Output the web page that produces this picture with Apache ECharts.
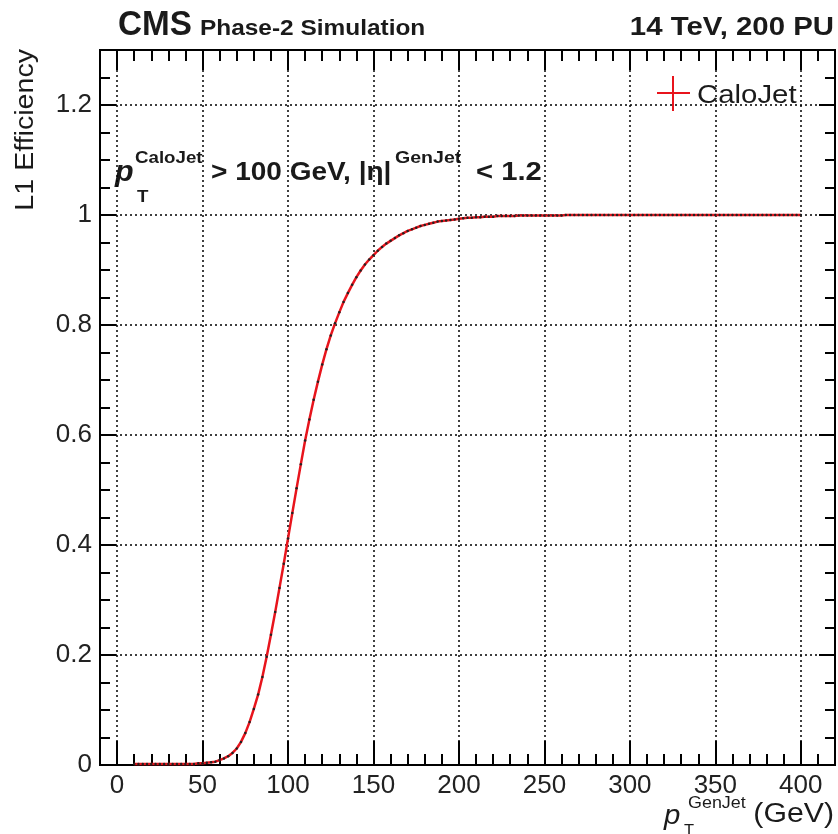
<!DOCTYPE html>
<html>
<head>
<meta charset="utf-8">
<script src="https://cdn.jsdelivr.net/npm/echarts@6/dist/echarts.min.js"></script>
<style>
html,body{margin:0;padding:0;background:#fff;}
#chart{width:838px;height:834px;}
</style>
</head>
<body>
<div id="chart"></div>
<script>
// ---- data ----
var ptGenJet = [
  10,12.5,15,17.5,20,22.5,25,27.5,30,32.5,35,37.5,40,42.5,45,47.5,50,52.5,55,57.5,
  60,62.5,65,67.5,70,72.5,75,77.5,80,82.5,85,87.5,90,92.5,95,97.5,100,102.5,105,107.5,
  110,112.5,115,117.5,120,122.5,125,127.5,130,132.5,135,137.5,140,142.5,145,147.5,150,152.5,155,157.5,
  160,162.5,165,167.5,170,172.5,175,177.5,180,182.5,185,187.5,190,192.5,195,197.5,200,202.5,205,207.5,
  210,212.5,215,217.5,220,222.5,225,227.5,230,232.5,235,237.5,240,242.5,245,247.5,250,252.5,255,257.5,
  260,262.5,265,267.5,270,272.5,275,277.5,280,282.5,285,287.5,290,292.5,295,297.5,300,302.5,305,307.5,
  310,312.5,315,317.5,320,322.5,325,327.5,330,332.5,335,337.5,340,342.5,345,347.5,350,352.5,355,357.5,
  360,362.5,365,367.5,370,372.5,375,377.5,380,382.5,385,387.5,390,392.5,395,397.5,400
];
var effCaloJet = [
  0.002,0.002,0.002,0.002,0.002,0.002,0.002,0.002,0.002,0.002,0.002,0.002,0.002,0.002,0.002,0.003,0.003,0.004,0.005,0.006,
  0.009,0.012,0.016,0.022,0.030,0.042,0.058,0.078,0.102,0.128,0.160,0.197,0.237,0.278,0.322,0.366,0.412,0.458,0.503,0.547,
  0.590,0.628,0.664,0.697,0.728,0.756,0.781,0.803,0.823,0.842,0.858,0.873,0.887,0.899,0.910,0.919,0.927,0.935,0.942,0.948,
  0.953,0.958,0.963,0.967,0.971,0.974,0.977,0.980,0.982,0.984,0.986,0.988,0.989,0.990,0.991,0.992,0.993,0.994,0.995,0.995,
  0.996,0.996,0.997,0.997,0.997,0.998,0.998,0.998,0.998,0.998,0.999,0.999,0.999,0.999,0.999,0.999,0.999,0.999,0.999,0.999,
  0.999,1,1,1,1,1,1,1,1,1,1,1,1,1,1,1,1,1,1,1,
  1,1,1,1,1,1,1,1,1,1,1,1,1,1,1,1,1,1,1,1,
  1,1,1,1,1,1,1,1,1,1,1,1,1,1,1,1,1
];
var xRange = [-10, 420];
var yRange = [0, 1.3];
var seriesName = 'CaloJet';

// ---- chart ----
var FONT = "'Liberation Sans', Arial, Helvetica, sans-serif";
var chart = echarts.init(document.getElementById('chart'), null, {renderer: 'canvas'});

function xAx(pos, major, labels) {
  return {
    type: 'value', position: pos, min: xRange[0], max: xRange[1],
    splitNumber: major ? 9 : undefined,
    interval: major ? undefined : 10,
    axisLine: {show: true, onZero: false, lineStyle: {color: '#000', width: 2}},
    axisTick: {show: true, inside: true, length: major ? (pos === 'bottom' ? 24 : 20) : 11, lineStyle: {color: '#000', width: 2}},
    axisLabel: {show: !!labels, showMinLabel: false, showMaxLabel: false, margin: 8,
      fontFamily: FONT, fontSize: 26, color: '#222'},
    splitLine: {show: !!labels, lineStyle: {color: '#000', type: [2, 3], width: 1.5}},
    minorTick: {show: false}
  };
}
function yAx(pos, major, labels) {
  return {
    type: 'value', position: pos, min: yRange[0], max: yRange[1],
    interval: major ? 0.2 : 0.05,
    axisLine: {show: true, onZero: false, lineStyle: {color: '#000', width: 2}},
    axisTick: {show: true, inside: true, length: major ? 16 : 10, lineStyle: {color: '#000', width: 2}},
    axisLabel: {show: !!labels, showMaxLabel: false, margin: 8,
      fontFamily: FONT, fontSize: 26, color: '#222'},
    splitLine: {show: !!labels, lineStyle: {color: '#000', type: [2, 3], width: 1.5}}
  };
}

var data = ptGenJet.map(function (x, i) { return [x, effCaloJet[i]]; });

function txt(x, y, s, font, align, sx, extra) {
  var o = {type: 'text', x: x, y: y, scaleX: sx || 1,
    style: {text: s, font: font + ' ' + FONT, fill: '#1a1a1a', align: align || 'left', verticalAlign: 'middle'}};
  if (extra) for (var k in extra) o[k] = extra[k];
  return o;
}

var option = {
  backgroundColor: '#fff',
  animation: false,
  grid: {left: 100, right: 3, top: 50, bottom: 69, show: true, borderColor: '#000', borderWidth: 2},
  xAxis: [xAx('bottom', true, true), xAx('bottom', false, false), xAx('top', true, false), xAx('top', false, false)],
  yAxis: [yAx('left', true, true), yAx('left', false, false), yAx('right', true, false), yAx('right', false, false)],
  series: [{
    name: seriesName, type: 'line', xAxisIndex: 0, yAxisIndex: 0,
    data: data, showAllSymbol: true, symbol: 'circle', symbolSize: 2.5,
    itemStyle: {color: '#222'},
    lineStyle: {color: '#e8141c', width: 2.5},
    z: 5
  }],
  graphic: [
    txt(118, 25, 'CMS', 'bold 35px', 'left', 0.95),
    txt(200, 29, 'Phase-2 Simulation', 'bold 22px', 'left', 1.11),
    txt(834, 28, '14 TeV, 200 PU', 'bold 26px', 'right', 1.13),
    // y title
    txt(26, 49, 'L1 Efficiency', '26px', 'right', 1.1, {rotation: Math.PI / 2}),
    // x title
    txt(834, 815, '(GeV)', '27px', 'right', 1.12),
    txt(664, 816, 'p', 'italic 28px', 'left', 1.05),
    txt(684, 830, 'T', '15px', 'left', 1.1),
    txt(688, 804, 'GenJet', '16px', 'left', 1.12),
    // annotation
    txt(115, 173, 'p', 'bold italic 29px', 'left', 1.05),
    txt(137, 197, 'T', 'bold 17px', 'left', 1.1),
    txt(135, 158, 'CaloJet', 'bold 17px', 'left', 1.1),
    txt(211, 173, '> 100 GeV, |\u03b7|', 'bold 25px', 'left', 1.12),
    txt(395, 158, 'GenJet', 'bold 17px', 'left', 1.15),
    txt(476, 173, '< 1.2', 'bold 25px', 'left', 1.17),
    // legend
    {type: 'line', shape: {x1: 657, y1: 93, x2: 690, y2: 93}, style: {stroke: '#e8141c', lineWidth: 2}},
    {type: 'line', shape: {x1: 673, y1: 76, x2: 673, y2: 111}, style: {stroke: '#e8141c', lineWidth: 2}},
    txt(697, 96, seriesName, '26px', 'left', 1.13)
  ]
};
chart.setOption(option);
</script>
</body>
</html>
